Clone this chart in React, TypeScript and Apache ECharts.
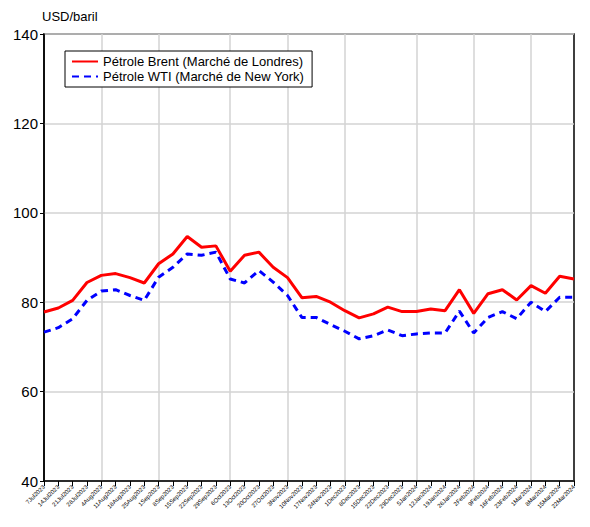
import React, { useEffect, useRef } from "react";
import * as echarts from "echarts";

const dates = [
  "7Jul2023", "14Jul2023", "21Jul2023", "28Jul2023", "4Aug2023", "11Aug2023", "18Aug2023", "25Aug2023",
  "1Sep2023", "8Sep2023", "15Sep2023", "22Sep2023", "29Sep2023", "6Oct2023", "13Oct2023", "20Oct2023",
  "27Oct2023", "3Nov2023", "10Nov2023", "17Nov2023", "24Nov2023", "1Dec2023", "8Dec2023", "15Dec2023",
  "22Dec2023", "29Dec2023", "5Jan2024", "12Jan2024", "19Jan2024", "26Jan2024", "2Feb2024", "9Feb2024",
  "16Feb2024", "23Feb2024", "1Mar2024", "8Mar2024", "15Mar2024", "22Mar2024",
];

const brent = [
  77.8, 78.7, 80.4, 84.4, 86.0, 86.4, 85.5, 84.3, 88.6, 90.8, 94.7, 92.3, 92.6, 86.9, 90.5, 91.2,
  87.8, 85.5, 81.0, 81.3, 80.0, 78.1, 76.5, 77.4, 78.9, 77.9, 77.9, 78.5, 78.1, 82.8, 77.5, 81.9,
  82.8, 80.5, 83.7, 82.0, 85.8, 85.2,
];

const wti = [
  73.3, 74.3, 76.3, 80.4, 82.5, 82.8, 81.5, 80.4, 85.6, 87.8, 90.8, 90.5, 91.2, 85.2, 84.3, 87.1,
  84.5, 81.5, 76.6, 76.6, 75.0, 73.5, 71.8, 72.5, 73.8, 72.5, 72.9, 73.1, 73.1, 78.0, 73.1, 76.6,
  77.9, 76.3, 80.0, 77.9, 81.1, 81.1,
];

const seriesNames = ["Pétrole Brent (Marché de Londres)", "Pétrole WTI (Marché de New York)"];
const unitLabel = "USD/baril";
const monthStartIdx = [4, 8, 13, 17, 21, 26, 30, 34];

const FONT = "'Liberation Sans', Arial, sans-serif";

export default function App() {
  const ref = useRef<HTMLDivElement>(null);
  useEffect(() => {
    if (!ref.current) return;
    const chart = echarts.init(ref.current, null, { renderer: "svg" });
    chart.setOption({
      animation: false,
      backgroundColor: "#ffffff",
      textStyle: { fontFamily: FONT },
      grid: {
        left: 44,
        right: 16,
        top: 34,
        bottom: 46,
        show: true,
        borderColor: "#000",
        borderWidth: 1.5,
        backgroundColor: "transparent",
      },
      legend: {
        orient: "vertical",
        left: 65,
        top: 51,
        padding: [4, 8, 4, 6],
        itemGap: 2,
        itemWidth: 26,
        itemHeight: 14,
        backgroundColor: "#fff",
        borderColor: "#000",
        borderWidth: 1,
        borderRadius: 0,
        itemStyle: { opacity: 0 },
        textStyle: { fontFamily: FONT, fontSize: 13, color: "#000", padding: [0, 0, 0, 0] },
        data: seriesNames,
      },
      graphic: [
        {
          type: "text",
          left: 42,
          top: 10,
          style: { text: unitLabel, fontFamily: FONT, fontSize: 13, fill: "#000" },
        },
      ],
      xAxis: {
        type: "category",
        data: dates,
        boundaryGap: false,
        axisLine: { lineStyle: { color: "#000", width: 1.5 } },
        axisTick: { show: true, interval: 0, length: 5, lineStyle: { color: "#000", width: 1 } },
        axisLabel: {
          interval: 0,
          rotate: 45,
          fontSize: 6,
          color: "#000",
          margin: 5,
          fontFamily: FONT,
        },
        splitLine: {
          show: true,
          interval: (idx: number) => monthStartIdx.indexOf(idx) >= 0,
          lineStyle: { color: "#d3d3d3", width: 1.5 },
        },
      },
      yAxis: {
        type: "value",
        min: 40,
        max: 140,
        interval: 20,
        axisLine: { show: true, lineStyle: { color: "#000", width: 1.5 } },
        axisTick: { show: true, length: 4, lineStyle: { color: "#000", width: 1 } },
        axisLabel: { fontSize: 15, color: "#000", margin: 6, fontFamily: FONT },
        splitLine: { show: true, lineStyle: { color: "#d3d3d3", width: 1.5 } },
      },
      series: [
        {
          name: seriesNames[0],
          type: "line",
          data: brent,
          symbol: "none",
          lineStyle: { color: "#ff0000", width: 3 },
          itemStyle: { color: "#ff0000" },
          z: 3,
        },
        {
          name: seriesNames[1],
          type: "line",
          data: wti,
          symbol: "none",
          lineStyle: { color: "#0000ff", width: 3, type: [7, 5] },
          itemStyle: { color: "#0000ff" },
          z: 2,
        },
      ],
    });
    return () => chart.dispose();
  }, []);
  return (
    <div
      ref={ref}
      style={{ position: "absolute", left: 0, top: 0, width: 590, height: 527 }}
    />
  );
}
